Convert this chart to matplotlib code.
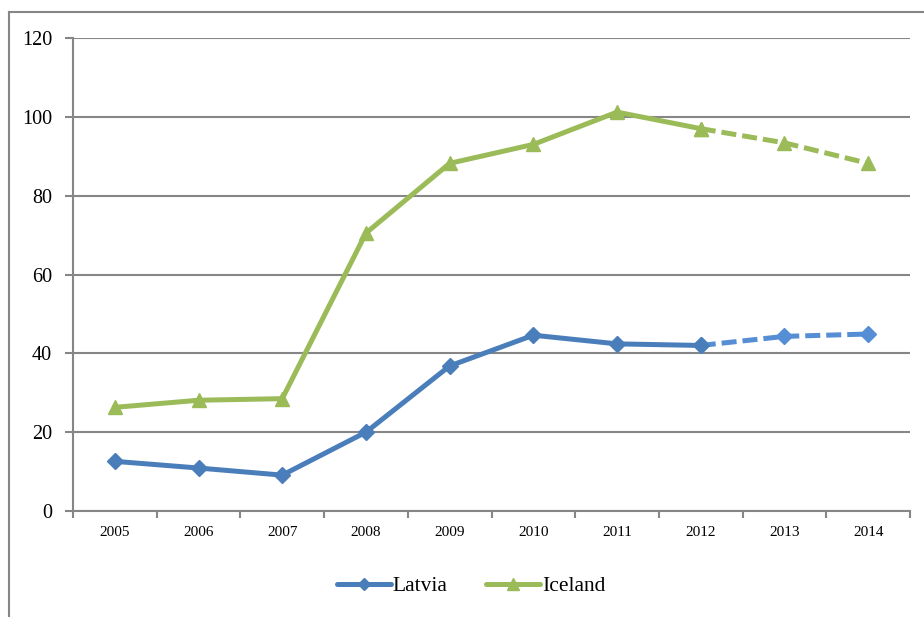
import numpy as np
import matplotlib.pyplot as plt
from matplotlib.lines import Line2D

years = ['2005', '2006', '2007', '2008', '2009', '2010', '2011', '2012', '2013', '2014']
latvia = [12.6, 10.9, 9.1, 20.0, 36.8, 44.6, 42.4, 42.0, 44.3, 44.9]
iceland = [26.3, 28.1, 28.5, 70.5, 88.2, 93.0, 101.2, 97.0, 93.4, 88.2]
n_solid = 8  # up to 2012 solid, then dashed

blue = '#4A7EBB'
blue_d = '#558ED5'
green = '#9BBB59'
grid_c = '#868686'

plt.rcParams['font.family'] = ['Liberation Serif', 'DejaVu Serif']

fig = plt.figure(figsize=(9.24, 6.17), dpi=100)
ax = fig.add_axes([73/924, 1-511/617, (910-73)/924, (511-38)/617])

x = np.arange(len(years))

# grey frame round the chart (cropped at right and bottom)
fig.add_artist(Line2D([9/924, 9/924], [0, 1-12/617], color=grid_c, lw=1.5))
fig.add_artist(Line2D([9/924, 1], [1-12/617, 1-12/617], color=grid_c, lw=1.5))

# dashed forecast part
ax.plot(x[n_solid-1:], latvia[n_solid-1:], color=blue_d, lw=3.6, ls=(0, (3, 1.2)),
        marker='D', ms=8, zorder=3)
ax.plot(x[n_solid-1:], iceland[n_solid-1:], color=green, lw=3.6, ls=(0, (3, 1.2)),
        marker='^', ms=10, zorder=3)
# solid part
ax.plot(x[:n_solid], latvia[:n_solid], color=blue, lw=3.6, marker='D', ms=8,
        solid_joinstyle='round', zorder=4)
ax.plot(x[:n_solid], iceland[:n_solid], color=green, lw=3.6, marker='^', ms=10,
        solid_joinstyle='round', zorder=4)

ax.set_xlim(-0.5, len(years) - 0.5)
ax.set_ylim(0, 120)
ax.set_yticks(np.arange(0, 121, 20))
ax.grid(axis='y', color=grid_c, lw=1.5)
ax.set_axisbelow(True)

ax.set_xticks(x)
ax.set_xticklabels(years, fontsize=11)
ax.set_xticks(np.arange(-0.5, len(years), 1), minor=True)
ax.tick_params(axis='x', which='major', length=0, pad=11)
ax.tick_params(axis='x', which='minor', length=5, width=1.5, color=grid_c, direction='out')
ax.tick_params(axis='y', length=6, width=1.5, color=grid_c, labelsize=14.5, pad=9)

for s in ['top', 'right']:
    ax.spines[s].set_visible(False)
for s in ['left', 'bottom']:
    ax.spines[s].set_color(grid_c)
    ax.spines[s].set_linewidth(1.5)

handles = [Line2D([], [], color=blue, lw=3.6, marker='D', ms=6, solid_capstyle='round'),
           Line2D([], [], color=green, lw=3.6, marker='^', ms=8, solid_capstyle='round')]
fig.legend(handles, ['Latvia', 'Iceland'], loc='center', bbox_to_anchor=(0.51, 0.05),
           ncol=2, frameon=False, fontsize=15.5, handlelength=2.5, handletextpad=0.1,
           columnspacing=1.8)

fig.savefig('out.png', dpi=100)
